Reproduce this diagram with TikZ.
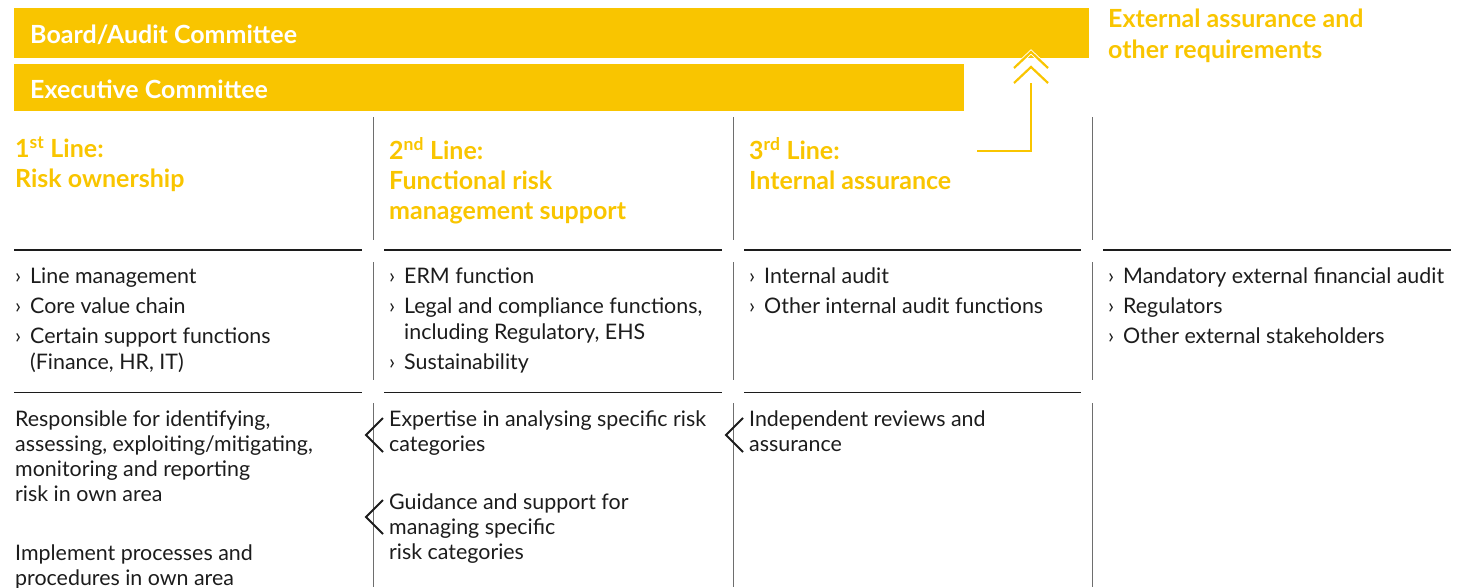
\documentclass[tikz,border=0pt]{standalone}
\usepackage{fontspec}
\setmainfont{Lato}
\usetikzlibrary{positioning}
\definecolor{gold}{HTML}{F9C500}
\definecolor{ink}{HTML}{1C1C1C}
\definecolor{rulegray}{HTML}{6E6E6E}
\newcommand{\itm}[1]{\makebox[15pt][l]{›}#1}
\newcommand{\cont}[1]{\makebox[15pt][l]{}#1}

\begin{document}
\begin{tikzpicture}[x=1pt, y=-1pt, inner sep=0pt,
  bar/.style={fill=gold, anchor=north west},
  bartitle/.style={text=white, anchor=west, font=\bfseries\fontsize{25}{30}\selectfont},
  linehead/.style={text=gold, anchor=north west, align=left, font=\bfseries\fontsize{25}{30}\selectfont},
  bullets/.style={text=ink, anchor=north west, align=left, font=\fontsize{21.4}{26}\selectfont},
  para/.style={text=ink, anchor=north west, align=left, font=\fontsize{21.4}{25}\selectfont},
  heavyrule/.style={draw=ink, line width=2.5pt},
  lightrule/.style={draw=ink, line width=0.9pt},
  colsep/.style={draw=rulegray, line width=1pt},
  chevron/.style={draw=ink, line width=1.8pt},
  upline/.style={draw=gold, line width=2.2pt}]
  \useasboundingbox (0,0) rectangle (1470,587);

  % committees
  \node[bar, minimum width=1075pt, minimum height=50pt] (board) at (14,8)  {};
  \node[bar, minimum width=950pt,  minimum height=47pt] (exec)  at (14,64) {};
  \node[bartitle, yshift=-2pt] (boardtxt) [right=16pt of board.west] {Board/Audit Committee};
  \node[bartitle, yshift=-2pt] (exectxt)  [right=16pt of exec.west]  {Executive Committee};
  \node[linehead, font=\bfseries\fontsize{25}{31}\selectfont] (external) at (1108,9)
       {External assurance and\\other requirements};

  % the three lines
  \node[linehead] (line1) at (15,137)  {1\textsuperscript{st} Line:\\Risk ownership};
  \node[linehead] (line2) at (389,137) {2\textsuperscript{nd} Line:\\Functional risk\\management support};
  \node[linehead] (line3) at (749,137) {3\textsuperscript{rd} Line:\\Internal assurance};

  % who
  \node[bullets] (who1) at (15,268)   {\itm{Line management}\\[4pt]\itm{Core value chain}\\[4pt]\itm{Certain support functions}\\\cont{(Finance, HR, IT)}};
  \node[bullets] (who2) at (389,268)  {\itm{ERM function}\\[4pt]\itm{Legal and compliance functions,}\\\cont{including Regulatory, EHS}\\[4pt]\itm{Sustainability}};
  \node[bullets] (who3) at (749,268)  {\itm{Internal audit}\\[4pt]\itm{Other internal audit functions}};
  \node[bullets] (who4) at (1108,268) {\itm{Mandatory external financial audit}\\[4pt]\itm{Regulators}\\[4pt]\itm{Other external stakeholders}};

  % what
  \node[para] (resp)   at (15,411)  {Responsible for identifying,\\assessing, exploiting/mitigating,\\monitoring and reporting\\risk in own area};
  \node[para] (impl)   at (15,545)  {Implement processes and\\procedures in own area};
  \node[para] (expert) at (389,411) {Expertise in analysing specific risk\\categories};
  \node[para] (guide)  at (389,494) {Guidance and support for\\managing specific\\risk categories};
  \node[para] (review) at (749,411) {Independent reviews and\\assurance};

  % rules
  \path[heavyrule] (14,250) -- (362,250)  (384,250) -- (722,250)
                   (744,250) -- (1081,250) (1103,250) -- (1451,250);
  \path[lightrule] (14,392) -- (362,392)  (384,392) -- (722,392)
                   (744,392) -- (1081,392);
  \path[colsep] (373,117) -- (373,240)  (373,262) -- (373,380)  (373,403) -- (373,587)
                (733,117) -- (733,240)  (733,262) -- (733,380)  (733,403) -- (733,587)
                (1092,117) -- (1092,240) (1092,262) -- (1092,380) (1092,403) -- (1092,587);

  % support flows back to the line before
  \draw[chevron] ([shift={(-6,7)}]expert.north west) -- ([shift={(-23,24)}]expert.north west) -- ([shift={(-6,41)}]expert.north west);
  \draw[chevron] ([shift={(-6,6)}]guide.north west)  -- ([shift={(-23,23)}]guide.north west)  -- ([shift={(-6,40)}]guide.north west);
  \draw[chevron] ([shift={(-6,7)}]review.north west) -- ([shift={(-23,24)}]review.north west) -- ([shift={(-6,41)}]review.north west);

  % reporting up to the board
  \coordinate (from3) at (977,151);
  \coordinate (tip)   at (1031,52);
  \draw[upline] (from3) -| ([shift={(0,31)}]tip);
  \draw[white, line width=4pt] ([shift={(-17,16)}]tip) -- (tip) -- ([shift={(17,16)}]tip);
  \draw[upline] ([shift={(-17,16)}]tip) -- (tip) -- ([shift={(17,16)}]tip);
  \draw[upline] ([shift={(-17,31)}]tip) -- ([shift={(0,15)}]tip) -- ([shift={(17,31)}]tip);
\end{tikzpicture}
\end{document}
